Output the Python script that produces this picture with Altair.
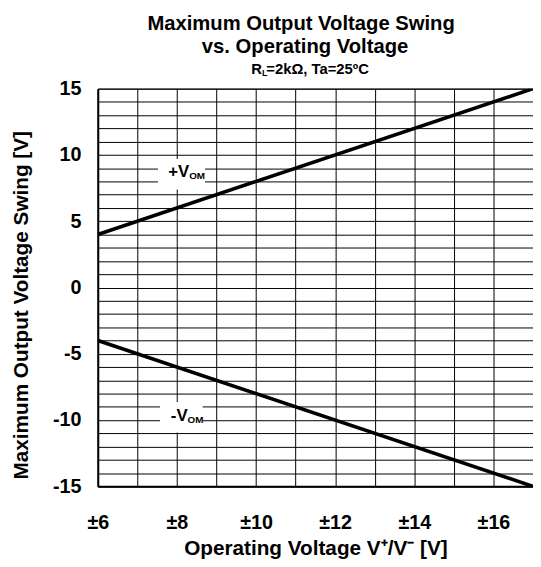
import altair as alt
import pandas as pd

# ---- data ----
SUPPLY_V = [6, 17]            # operating voltage (±V)
POS_SWING = [4, 15]           # +VOM [V]
NEG_SWING = [-4, -15]         # -VOM [V]
SERIES = ["+V", "-V"]

X_GRID = list(range(6, 18))
Y_GRID = list(range(-15, 16))
X_TICK_LABELS = [6, 8, 10, 12, 14, 16]
Y_TICK_LABELS = [-15, -10, -5, 0, 5, 10, 15]

TITLE_LINES = ["Maximum Output Voltage Swing", "vs. Operating Voltage"]
SUB_MAIN = "R"
SUB_SUB = "L"
SUB_REST = "=2kΩ, Ta=25ºC"
X_TITLE = "Operating Voltage V\u207a/V\u207b [V]"
Y_TITLE = "Maximum Output Voltage Swing [V]"

LABEL_MAIN = ["+V", "-V"]
LABEL_SUB = ["OM", "OM"]
LABEL_X = [8.31, 8.27]
LABEL_Y = [8.37, -10.04]
BOX_X = [7.52, 7.57]
BOX_X2 = [8.71, 8.65]
BOX_Y = [7.4, -10.94]
BOX_Y2 = [9.7, -8.63]

FONT = "Liberation Sans"

lines_df = pd.DataFrame({
    "v": SUPPLY_V + SUPPLY_V,
    "swing": POS_SWING + NEG_SWING,
    "series": [SERIES[0]] * 2 + [SERIES[1]] * 2,
})
labels_df = pd.DataFrame({"main": LABEL_MAIN, "sub": LABEL_SUB, "x": LABEL_X, "y": LABEL_Y})
boxes_df = pd.DataFrame({"x": BOX_X, "x2": BOX_X2, "y": BOX_Y, "y2": BOX_Y2})

xlab = "[" + ",".join(str(v) for v in X_TICK_LABELS) + "]"
ylab = "[" + ",".join(str(v) for v in Y_TICK_LABELS) + "]"

xscale = alt.Scale(domain=[6, 17], nice=False, zero=False)
yscale = alt.Scale(domain=[-15, 15], nice=False, zero=False)

xaxis = alt.Axis(
    values=X_GRID, tickCount=len(X_GRID), grid=True, gridColor="#000", gridWidth=1, gridOpacity=1,
    ticks=False, domain=True, domainColor="#000", domainWidth=2,
    labelExpr=f"indexof({xlab}, datum.value) >= 0 ? '±' + datum.value : ''",
    labelFont=FONT, labelFontSize=20, labelFontWeight="bold", labelColor="#000",
    labelPadding=27, labelFlush=False, labelOverlap=False,
    title=X_TITLE, titleFont=FONT, titleFontSize=21, titleFontWeight="bold",
    titleColor="#000", titlePadding=5,
)
yaxis = alt.Axis(
    values=Y_GRID, tickCount=len(Y_GRID), grid=True, gridColor="#000", gridWidth=1, gridOpacity=1,
    ticks=False, domain=True, domainColor="#000", domainWidth=2,
    labelExpr=f"indexof({ylab}, datum.value) >= 0 ? '' + datum.value : ''",
    labelFont=FONT, labelFontSize=20, labelFontWeight="bold", labelColor="#000",
    labelPadding=17, labelFlush=False, labelOverlap=False,
    title=Y_TITLE, titleFont=FONT, titleFontSize=21, titleFontWeight="bold",
    titleColor="#000", titleX=-67, titleY=219, titleAngle=270, titleBaseline="bottom",
    titleAlign="center",
)

lines = alt.Chart(lines_df).mark_line(color="#000", strokeWidth=3.6, clip=True).encode(
    x=alt.X("v:Q", scale=xscale, axis=xaxis),
    y=alt.Y("swing:Q", scale=yscale, axis=yaxis),
    detail="series:N",
)

boxes = alt.Chart(boxes_df).mark_rect(color="#fff").encode(
    x=alt.X("x:Q", scale=xscale), x2="x2:Q",
    y=alt.Y("y:Q", scale=yscale), y2="y2:Q",
)

lab_main = alt.Chart(labels_df).mark_text(
    font=FONT, fontSize=17, fontWeight="bold", color="#000", align="right", baseline="alphabetic"
).encode(x=alt.X("x:Q", scale=xscale), y=alt.Y("y:Q", scale=yscale), text="main:N")

lab_sub = alt.Chart(labels_df).mark_text(
    font=FONT, fontSize=10, fontWeight="bold", color="#000", align="left", baseline="alphabetic", dy=2
).encode(x=alt.X("x:Q", scale=xscale), y=alt.Y("y:Q", scale=yscale), text="sub:N")

title_df = pd.DataFrame({"t": TITLE_LINES, "row": [0, 1]})
title1 = alt.Chart(title_df.iloc[[0]]).mark_text(
    font=FONT, fontSize=20.5, fontWeight="bold", color="#000", align="center", baseline="alphabetic"
).encode(x=alt.value(206), y=alt.value(-59), text="t:N")
title2 = alt.Chart(title_df.iloc[[1]]).mark_text(
    font=FONT, fontSize=20.5, fontWeight="bold", color="#000", align="center", baseline="alphabetic"
).encode(x=alt.value(210), y=alt.value(-36), text="t:N")

sub_df = pd.DataFrame({"a": [SUB_MAIN], "b": [SUB_SUB], "c": [SUB_REST]})
sub1 = alt.Chart(sub_df).mark_text(
    font=FONT, fontSize=15, fontWeight="bold", color="#000", align="right", baseline="alphabetic"
).encode(x=alt.value(166.3), y=alt.value(-15.3), text="a:N")
sub2 = alt.Chart(sub_df).mark_text(
    font=FONT, fontSize=9, fontWeight="bold", color="#000", align="left", baseline="alphabetic"
).encode(x=alt.value(166.3), y=alt.value(-13), text="b:N")
sub3 = alt.Chart(sub_df).mark_text(
    font=FONT, fontSize=15, fontWeight="bold", color="#000", align="left", baseline="alphabetic"
).encode(x=alt.value(170.8), y=alt.value(-15.3), text="c:N")

chart = alt.layer(
    boxes, lines, lab_main, lab_sub, title1, title2, sub1, sub2, sub3
).properties(
    width=441, height=403,
    autosize=alt.AutoSizeParams(type="none"),
    padding={"left": 91, "top": 78, "right": 0, "bottom": 78},
    background="#fff",
).configure_view(stroke="#000", strokeWidth=1)

chart.save("out.html", embed_options={"renderer": "svg", "actions": False})
